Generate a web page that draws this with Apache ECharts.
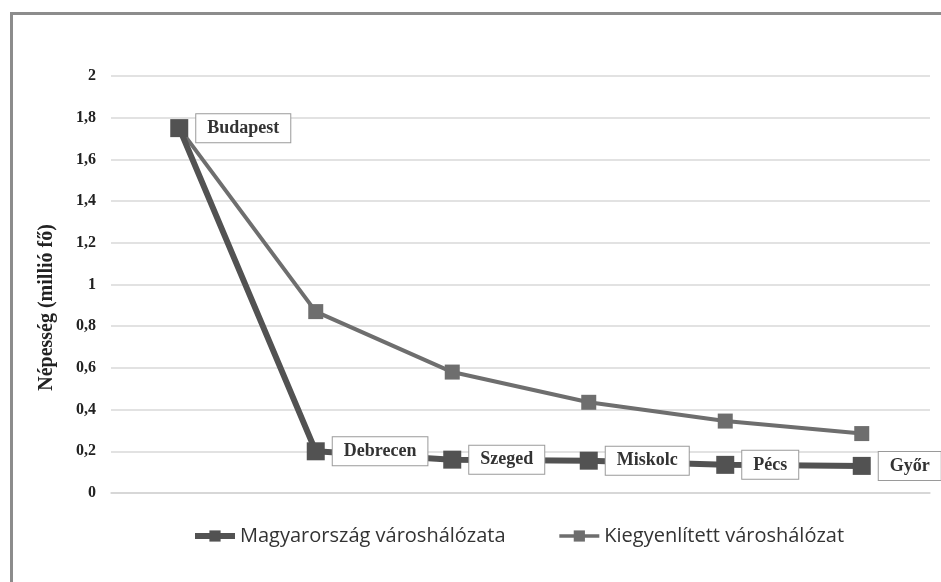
<!DOCTYPE html>
<html>
<head>
<meta charset="utf-8">
<script src="https://cdn.jsdelivr.net/npm/echarts@6/dist/echarts.min.js"></script>
<style>
html,body{margin:0;padding:0;background:#fff;}
#chart{width:941px;height:582px;}
</style>
</head>
<body>
<div id="chart"></div>
<script>
var categories = ['Budapest', 'Debrecen', 'Szeged', 'Miskolc', 'Pécs', 'Győr'];
var labelNames = ['Budapest', 'Debrecen', 'Szeged', 'Miskolc', 'Pécs', 'Győr'];
var seriesNames = ['Magyarország városhálózata', 'Kiegyenlített városhálózat'];
var actualValues = [1.75, 0.20, 0.16, 0.155, 0.135, 0.13];
var balancedValues = [1.75, 0.87, 0.58, 0.435, 0.345, 0.285];
var yTicks = { min: 0, max: 2, interval: 0.2 };
var yAxisName = 'Népesség (millió fő)';

var chart = echarts.init(document.getElementById('chart'));
var serif = 'Liberation Serif';
chart.setOption({
  animation: false,
  backgroundColor: '#fff',
  graphic: [{
    type: 'rect',
    shape: { x: 11.5, y: 13.5, width: 1000, height: 1000 },
    style: { fill: 'none', stroke: '#8c8c8c', lineWidth: 3 },
    silent: true
  }],
  grid: { left: 111, right: 11, top: 76, bottom: 89 },
  legend: {
    left: 192, top: 526, padding: 0,
    itemWidth: 40, itemHeight: 14, itemGap: 52,
    textStyle: { fontFamily: 'Open Sans', fontSize: 20, color: '#333' },
    data: [
      { name: seriesNames[0], lineStyle: { width: 6 } },
      { name: seriesNames[1], lineStyle: { width: 3.5 } }
    ]
  },
  xAxis: {
    type: 'category',
    data: categories,
    boundaryGap: true,
    axisLabel: { show: false },
    axisTick: { show: false },
    axisLine: { lineStyle: { color: '#d4d4d4', width: 1.5 } }
  },
  yAxis: {
    type: 'value',
    min: yTicks.min, max: yTicks.max, interval: yTicks.interval,
    name: yAxisName,
    nameLocation: 'middle',
    nameGap: 54,
    nameTextStyle: { fontFamily: serif, fontWeight: 'bold', fontSize: 20, color: '#222', padding: [0, 0, 0, -46] },
    axisLabel: {
      fontFamily: serif, fontWeight: 'bold', fontSize: 16, color: '#222', margin: 15,
      formatter: function (v) { return String(Math.round(v * 10) / 10).replace('.', ','); }
    },
    axisLine: { show: false },
    axisTick: { show: false },
    splitLine: { lineStyle: { color: '#d9d9d9', width: 1.5 } }
  },
  series: [
    {
      name: seriesNames[1],
      type: 'line',
      data: balancedValues,
      symbol: 'rect',
      symbolSize: 15,
      z: 2,
      itemStyle: { color: '#6e6e6e' },
      lineStyle: { color: '#6e6e6e', width: 4 }
    },
    {
      name: seriesNames[0],
      type: 'line',
      data: actualValues,
      symbol: 'rect',
      symbolSize: 18,
      z: 3,
      itemStyle: { color: '#525252' },
      lineStyle: { color: '#525252', width: 6 },
      label: {
        show: true,
        position: 'right',
        distance: 8,
        formatter: function (p) { return labelNames[p.dataIndex]; },
        fontFamily: serif,
        fontWeight: 'bold',
        fontSize: 18,
        color: '#333',
        backgroundColor: '#fff',
        borderColor: '#9a9a9a',
        borderWidth: 1,
        padding: [5, 11, 5, 11]
      }
    }
  ]
});
</script>
</body>
</html>
